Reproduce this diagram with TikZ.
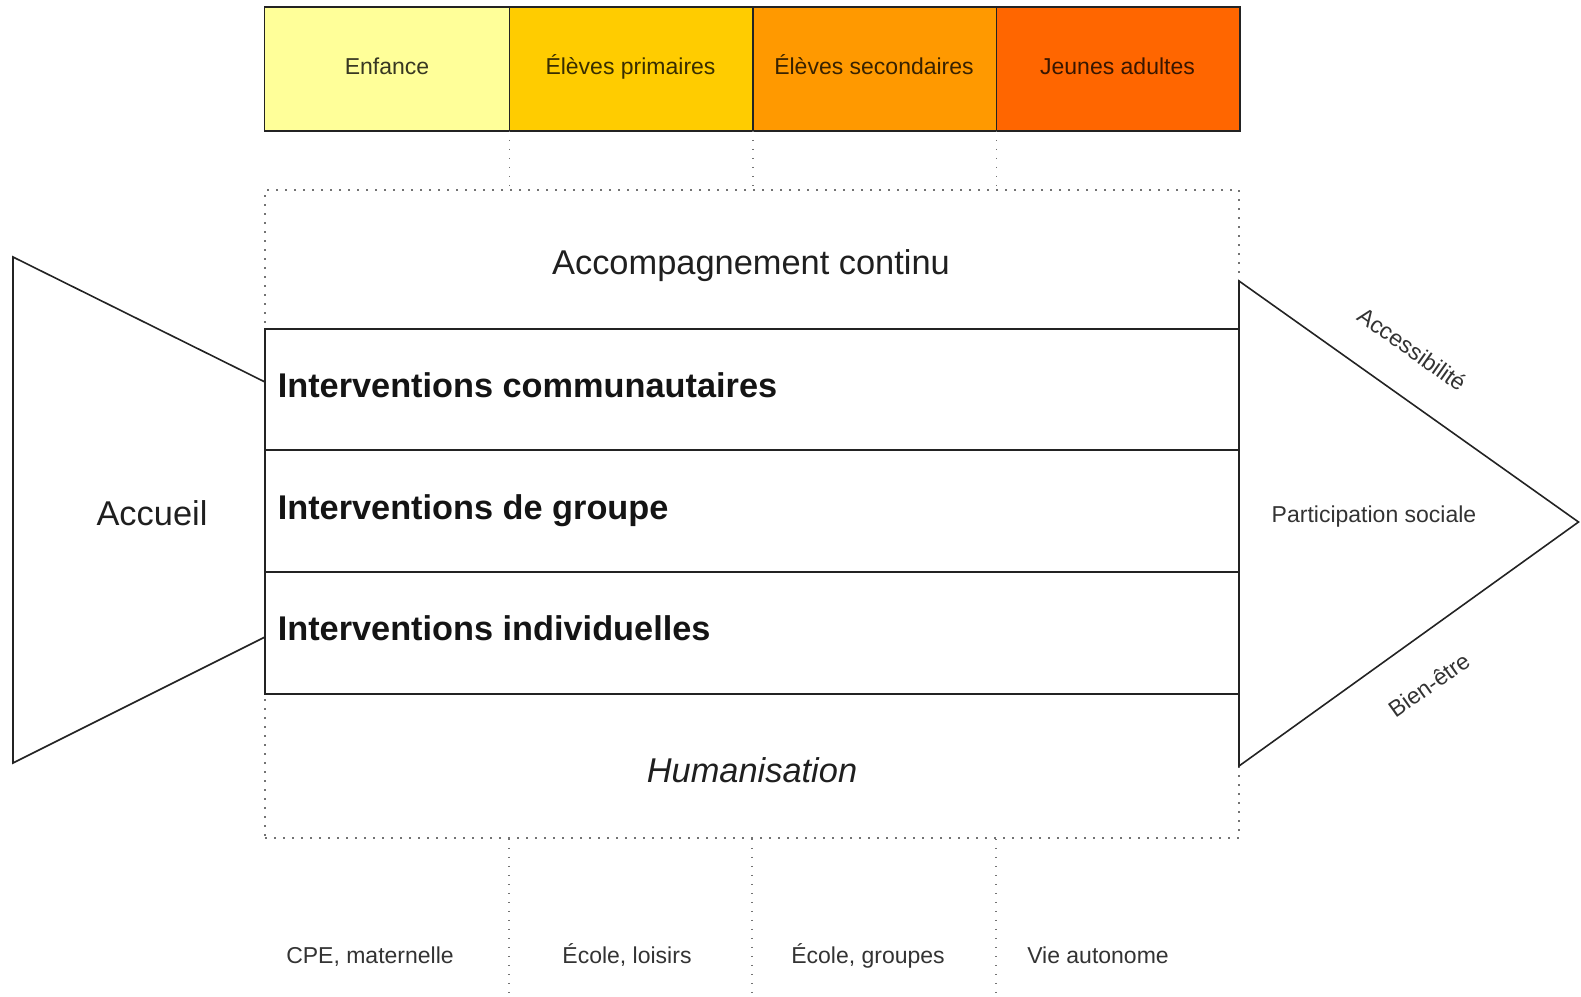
\documentclass[tikz,border=0pt]{standalone}
\usepackage{fontspec}
\setmainfont{Liberation Sans}
\definecolor{cA}{RGB}{255,255,153}
\definecolor{cB}{RGB}{255,204,0}
\definecolor{cC}{RGB}{255,153,0}
\definecolor{cD}{RGB}{255,102,0}
\definecolor{edge}{RGB}{35,35,35}
\begin{document}
\begin{tikzpicture}[x=1pt,y=-1pt,
  line width=1.6pt,
  agebox/.style={minimum width=243.5pt, minimum height=122pt, inner sep=0pt},
  rowbox/.style={draw=edge, minimum width=974pt, inner sep=0pt},
  dots/.style={draw=black!55, line width=1.6pt, dash pattern=on 1.6pt off 7.4pt},
  big/.style={font=\fontsize{34.4}{41}\selectfont, text=black!88, inner sep=0pt},
  small/.style={font=\fontsize{23}{27}\selectfont, text=black!80, inner sep=0pt},
  rowlabel/.style={font=\bfseries\fontsize{34.3}{41}\selectfont, text=black!92, anchor=base west, inner sep=0pt}
]
\useasboundingbox (0,0) rectangle (1581,996);
% top age boxes (fills first, borders after)
\node[agebox, fill=cA] (enf) at (387,69) {};
\node[agebox, fill=cB] (pri) at (630.5,69) {};
\node[agebox, fill=cC] (sec) at (874,69) {};
\node[agebox, fill=cD] (jeu) at (1117.5,69) {};
\draw[edge] (enf.north west) rectangle (jeu.south east);
\draw[edge] (enf.north east) -- (enf.south east);
\draw[edge] (pri.north east) -- (pri.south east);
\draw[edge] (sec.north east) -- (sec.south east);
\node[small, anchor=base, text=black!78!cA] (tenf) at (387,74) {Enfance};
\node[small, anchor=base, text=black!78!cB] (tpri) at (630.5,74) {Élèves primaires};
\node[small, anchor=base, text=black!78!cC] (tsec) at (874,74) {Élèves secondaires};
\node[small, anchor=base, text=black!78!cD] (tjeu) at (1117.5,74) {Jeunes adultes};
% dotted frame
\node[dots, minimum width=974pt, minimum height=648pt, inner sep=0pt] (frame) at (752,514) {};
\coordinate (b1) at (509,996);
\coordinate (b2) at (752,996);
\coordinate (b3) at (996,996);
\draw[dots] (enf.south east) -- (enf.south east |- frame.north);
\draw[dots] (pri.south east) -- (pri.south east |- frame.north);
\draw[dots] (sec.south east) -- (sec.south east |- frame.north);
\draw[dots] (b1 |- frame.south) -- (b1);
\draw[dots] (b2 |- frame.south) -- (b2);
\draw[dots] (b3 |- frame.south) -- (b3);
% left trapezoid
\coordinate (a1) at (13,257);
\coordinate (a2) at (13,763);
\coordinate (a3) at (265,382);
\coordinate (a4) at (265,637);
\draw[edge, line join=miter] (a3) -- (a1) -- (a2) -- (a4);
% right triangle
\coordinate (p1) at (1239,281);
\coordinate (p2) at (1578.5,522);
\coordinate (p3) at (1239,766);
\draw[edge] (p1) -- (p2) -- (p3) -- cycle;
% rows
\node[rowbox, minimum height=121pt] (r1) at (752,389.5) {};
\node[rowbox, minimum height=122pt] (r2) at (752,511) {};
\node[rowbox, minimum height=122pt] (r3) at (752,633) {};
\node[rowlabel] (l1) at (277,397.3) {Interventions communautaires};
\node[rowlabel] (l2) at (277,519) {Interventions de groupe};
\node[rowlabel] (l3) at (277,640.7) {Interventions individuelles};
% texts
\node[big, anchor=base] (acc) at (751,274) {Accompagnement continu};
\node[big, anchor=base] (hum) at (752,782) {\itshape Humanisation};
\node[big, anchor=base] (accueil) at (152,525) {Accueil};
\node[small, anchor=base] (part) at (1374,522) {Participation sociale};
\node[small, rotate=-35.3] (accs) at (1412,349) {Accessibilité};
\node[small, rotate=35.3] (bien) at (1429,685) {Bien-être};
\node[small, anchor=base] (q1) at (370,963) {CPE, maternelle};
\node[small, anchor=base] (q2) at (627,963) {École, loisirs};
\node[small, anchor=base] (q3) at (868,963) {École, groupes};
\node[small, anchor=base] (q4) at (1098,963) {Vie autonome};
\end{tikzpicture}
\end{document}
